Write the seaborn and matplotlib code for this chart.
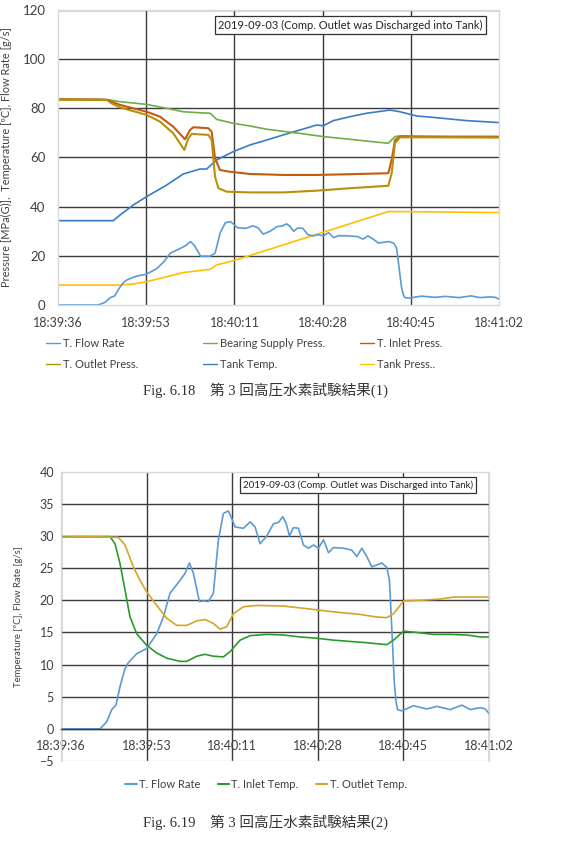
import numpy as np
import pandas as pd
import matplotlib
matplotlib.use("Agg")
import matplotlib.pyplot as plt
import seaborn as sns

# ---------------- data ----------------
tick_labels = ["18:39:36", "18:39:53", "18:40:11", "18:40:28", "18:40:45", "18:41:02"]
tick_pos = [0, 17.28, 34.56, 51.84, 69.12, 86.4]

flow_t = [0, 7.88, 9.23, 10.24, 11.11, 11.92, 12.93, 13.6, 15.29, 17.31, 19.33, 20.67, 22.02, 24.04, 25.05,
          25.93, 26.73, 27.95, 28.75, 29.76, 30.77, 31.78, 32.79, 33.80, 34.48, 35.15, 36.84, 38.18, 39.19,
          40.20, 41.55, 42.90, 43.91, 44.78, 45.45, 46.13, 46.94, 47.95, 48.96, 49.97, 50.98, 51.99, 53.0,
          54.01, 55.02, 57.04, 58.72, 59.73, 60.74, 61.75, 62.76, 63.77, 64.78, 65.79, 66.33, 66.81, 67.27,
          67.61, 67.95, 68.82, 71.18, 73.87, 75.89, 78.58, 80.94, 82.63, 84.65, 85.66, 86.4]
flow_v = [0, 0, 1.1, 3.0, 3.7, 6.6, 9.4, 10.3, 11.7, 12.5, 14.8, 17.4, 21.1, 23.1, 24.2, 25.8, 24.2, 19.8,
          19.9, 19.8, 21.1, 29.4, 33.5, 33.9, 32.7, 31.4, 31.2, 32.2, 31.4, 28.8, 30.0, 31.9, 32.1, 33.0,
          32.0, 30.0, 31.3, 31.2, 28.6, 28.1, 28.6, 28.1, 29.4, 27.4, 28.2, 28.1, 27.8, 26.8, 28.1, 26.8,
          25.2, 25.5, 25.8, 25.1, 23.1, 15.4, 7.6, 4.5, 3.0, 2.8, 3.6, 3.1, 3.5, 3.0, 3.7, 3.0, 3.3, 3.1, 2.4]

bear_t = [0, 8.23, 10.19, 12.15, 17.37, 21.29, 24.55, 27.82, 29.78, 31.08, 34.35, 37.61, 40.88, 47.41,
          51.98, 57.2, 61.77, 64.71, 66.02, 67.0, 73.53, 86.4]
bear_v = [83.7, 83.7, 83.4, 82.7, 81.6, 80.0, 78.6, 78.2, 78.0, 75.5, 73.9, 72.8, 71.5, 69.8, 68.5, 67.4,
          66.4, 65.8, 68.5, 68.8, 68.5, 68.2]

inp_t = [0, 9.53, 10.51, 12.15, 17.37, 19.98, 22.59, 24.88, 25.86, 26.51, 29.45, 30.10, 30.76, 31.74,
         33.69, 37.61, 44.14, 50.67, 57.20, 64.71, 65.37, 66.02, 67.0, 73.53, 86.4]
inp_v = [83.7, 83.5, 82.7, 81.4, 78.6, 76.6, 72.5, 67.4, 71.2, 72.3, 71.9, 70.5, 59.7, 54.9, 54.2, 53.3,
         52.9, 52.9, 53.2, 53.6, 59.0, 67.1, 68.5, 68.5, 68.5]

outp_t = [0, 9.53, 10.51, 12.15, 17.37, 19.98, 22.59, 24.75, 25.53, 26.19, 29.45, 30.10, 30.76, 31.41,
          33.04, 37.61, 44.14, 50.67, 57.20, 64.71, 65.37, 66.02, 67.0, 73.53, 86.4]
outp_v = [83.4, 83.4, 82.0, 80.4, 77.3, 74.6, 69.8, 63.1, 67.8, 69.6, 69.2, 67.1, 52.2, 47.5, 46.1, 45.8,
          45.8, 46.5, 47.5, 48.5, 53.6, 65.8, 68.2, 68.2, 68.1]

ttemp_t = [0, 10.84, 12.15, 14.76, 17.37, 21.29, 24.55, 27.82, 29.12, 31.08, 34.35, 37.61, 40.88, 44.14,
           47.41, 50.67, 51.98, 53.94, 57.20, 60.47, 65.04, 67.0, 70.26, 73.53, 80.06, 86.4]
ttemp_v = [34.3, 34.3, 36.6, 40.7, 44.1, 48.8, 53.3, 55.3, 55.3, 59.0, 62.4, 65.1, 67.1, 69.2, 71.2, 73.2,
           72.9, 75.0, 76.6, 78.0, 79.3, 78.6, 76.9, 76.3, 75.0, 74.2]

tpress_t = [0, 11.49, 14.76, 17.37, 19.98, 24.55, 29.78, 31.08, 34.35, 64.71, 67.0, 86.4]
tpress_v = [8.1, 8.1, 8.5, 9.5, 10.8, 13.2, 14.5, 16.3, 18.0, 38.0, 38.0, 37.6]

itemp_t = [0, 9.90, 10.91, 11.92, 12.93, 13.94, 15.29, 17.31, 19.33, 21.35, 24.04, 25.39, 27.41, 29.09,
           30.77, 32.79, 34.14, 36.16, 38.18, 41.55, 44.92, 48.28, 51.65, 55.02, 58.38, 61.75, 65.79,
           67.14, 69.16, 71.85, 75.22, 78.59, 81.95, 84.65, 86.4]
itemp_v = [29.9, 29.9, 28.8, 25.7, 21.6, 17.4, 14.8, 13.0, 11.8, 11.0, 10.5, 10.5, 11.3, 11.6, 11.3, 11.2,
           12.0, 13.8, 14.5, 14.7, 14.6, 14.3, 14.1, 13.8, 13.6, 13.4, 13.1, 13.8, 15.2, 15.0, 14.7, 14.7,
           14.6, 14.3, 14.3]

otemp_t = [0, 4.51, 11.58, 12.93, 14.61, 15.96, 17.31, 19.33, 21.35, 23.37, 25.39, 27.41, 29.09, 30.77,
           32.12, 33.47, 34.81, 36.84, 39.53, 44.92, 49.63, 55.02, 60.40, 63.77, 65.79, 67.14, 69.16,
           72.52, 76.57, 79.26, 83.30, 86.4]
otemp_v = [29.8, 29.9, 29.8, 28.6, 25.2, 23.1, 21.3, 19.2, 17.2, 16.1, 16.1, 16.8, 17.0, 16.4, 15.5, 15.9,
           17.9, 19.0, 19.2, 19.1, 18.7, 18.2, 17.8, 17.4, 17.3, 17.9, 19.9, 20.0, 20.2, 20.5, 20.5, 20.5]

y1_ticks = [0, 20, 40, 60, 80, 100, 120]
y2_ticks = [-5, 0, 5, 10, 15, 20, 25, 30, 35, 40]

box_text = "2019-09-03 (Comp. Outlet was Discharged into Tank)"
ylabel1 = "Pressure [MPa(G)],  Temperature [ºC], Flow Rate [g/s]"
ylabel2 = "Temperature [ºC], Flow Rate [g/s]"
cap1 = "Fig. 6.18　第 3 回高圧水素試験結果(1)"
cap2 = "Fig. 6.19　第 3 回高圧水素試験結果(2)"

# ---------------- style ----------------
sns.set_theme(style="white")
plt.rcParams["font.family"] = ["Lato", "DejaVu Sans"]

GRID = "#3c3c3c"
BORDER = "#d9d9d9"
TXT = "#404040"

fig = plt.figure(figsize=(5.69, 8.55), dpi=100)
fig.patch.set_facecolor("white")

ax1 = fig.add_axes([0.102, 0.6433, 0.775, 0.345])
ax2 = fig.add_axes([0.1072, 0.1099, 0.752, 0.3384])

LW = 1.2

def draw(ax, t, v, color, label, lw=LW):
    df = pd.DataFrame({"t": t, "v": v})
    sns.lineplot(data=df, x="t", y="v", ax=ax, color=color, lw=lw, label=label,
                 sort=False, legend=False, estimator=None)

c_flow = "#5b9bd5"
c_bear = "#70ad47"
c_inp = "#c55a11"
c_outp = "#b8900a"
c_ttemp = "#3a7cc4"
c_tpress = "#ffc000"

draw(ax1, tpress_t, tpress_v, c_tpress, "Tank Press..")
draw(ax1, flow_t, flow_v, c_flow, "T. Flow Rate")
draw(ax1, ttemp_t, ttemp_v, c_ttemp, "Tank Temp.")
draw(ax1, bear_t, bear_v, c_bear, "Bearing Supply Press.")
draw(ax1, inp_t, inp_v, c_inp, "T. Inlet Press.", lw=1.5)
draw(ax1, outp_t, outp_v, c_outp, "T. Outlet Press.", lw=1.5)

c_itemp = "#2a9a2a"
c_otemp = "#d4a52a"
draw(ax2, flow_t, flow_v, c_flow, "T. Flow Rate")
draw(ax2, itemp_t, itemp_v, c_itemp, "T. Inlet Temp.")
draw(ax2, otemp_t, otemp_v, c_otemp, "T. Outlet Temp.")

for ax, yt, lo, hi in [(ax1, y1_ticks, 0, 120), (ax2, y2_ticks, -5, 40)]:
    ax.set_xlim(tick_pos[0], tick_pos[-1])
    ax.set_ylim(lo, hi)
    ax.set_xticks(tick_pos)
    ax.set_xticklabels(tick_labels)
    ax.set_yticks(yt)
    ax.set_xlabel("")
    ax.set_ylabel("")
    ax.grid(True, color=GRID, lw=1.0)
    ax.set_axisbelow(True)
    for s in ax.spines.values():
        s.set_color(BORDER)
        s.set_linewidth(1.0)
    ax.tick_params(length=0, colors=TXT)

# hide gridlines that coincide with the plot border
for ax in (ax1, ax2):
    gl = ax.xaxis.get_gridlines()
    gl[0].set_visible(False)
    gl[-1].set_visible(False)
ax1.yaxis.get_gridlines()[0].set_visible(False)
ax2.yaxis.get_gridlines()[0].set_visible(False)
ax2.yaxis.get_gridlines()[-1].set_visible(False)

ax1.tick_params(axis="y", labelsize=9.5, pad=9)
ax1.tick_params(axis="x", labelsize=9, pad=9)
ax2.tick_params(axis="y", labelsize=9, pad=5)
ax2.tick_params(axis="x", labelsize=9, pad=8)

# chart 2: category axis crosses at 0
ax2.spines["bottom"].set_position(("data", 0))
ax2.spines["bottom"].set_color(GRID)
ax2.axhline(y2_ticks[0], color=BORDER, lw=1.0)

ax1.set_ylabel(ylabel1, fontsize=7.9, color=TXT)
ax1.yaxis.set_label_coords(-0.104, 0.5)
ax2.set_ylabel(ylabel2, fontsize=6.8, color=TXT)
ax2.yaxis.set_label_coords(-0.089, 0.5)

# annotation boxes
box = dict(boxstyle="square,pad=0.3", fc="white", ec="#333333", lw=0.9)
ax1.text(0.663, 0.949, box_text, transform=ax1.transAxes, ha="center", va="center",
         fontsize=8, color="#222222", bbox=box, zorder=5)
ax2.text(0.695, 0.954, box_text, transform=ax2.transAxes, ha="center", va="center",
         fontsize=7, color="#222222", bbox=box, zorder=5)

# legends chart 1 (three columns of two rows)
h1 = {l.get_label(): l for l in ax1.get_lines()}
cols = [["T. Flow Rate", "T. Outlet Press."],
        ["Bearing Supply Press.", "Tank Temp."],
        ["T. Inlet Press.", "Tank Press.."]]
xs = [0.0808, 0.3568, 0.6327]
for names, x in zip(cols, xs):
    leg = fig.legend([h1[n] for n in names], names, loc="upper left", bbox_to_anchor=(x, 0.6045),
                     frameon=False, fontsize=8, handlelength=1.3, handletextpad=0.2,
                     labelspacing=0.85, borderpad=0, borderaxespad=0)
    for t in leg.get_texts():
        t.set_color(TXT)
    for lh in leg.get_lines():
        lh.set_linewidth(1.0)

h2 = ax2.get_lines()[:3]
leg2 = fig.legend(h2, ["T. Flow Rate", "T. Inlet Temp.", "T. Outlet Temp."], loc="center",
                  bbox_to_anchor=(0.4675, 0.083), ncol=3, frameon=False, fontsize=8,
                  handlelength=1.0, handletextpad=0.2, columnspacing=1.6, borderpad=0)
for t in leg2.get_texts():
    t.set_color(TXT)
for lh in leg2.get_lines():
    lh.set_linewidth(1.5)

capfam = ["Liberation Serif", "Noto Sans CJK JP"]
fig.text(0.466, 1 - 390 / 855, cap1, ha="center", va="center", fontsize=10.5,
         family=capfam, color="#333333")
fig.text(0.466, 1 - 822 / 855, cap2, ha="center", va="center", fontsize=10.5,
         family=capfam, color="#333333")

fig.savefig("out.png", dpi=100, facecolor="white")
